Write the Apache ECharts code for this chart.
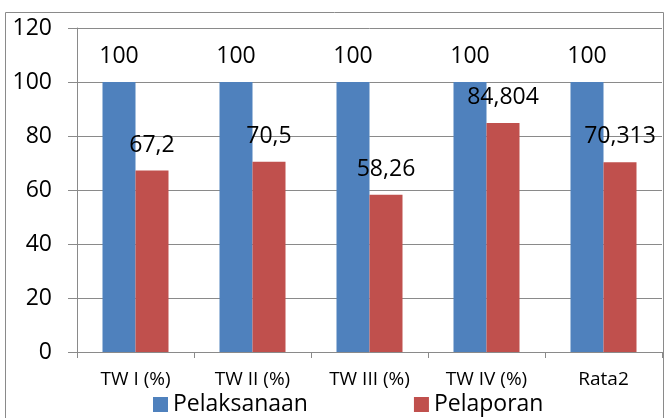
<!DOCTYPE html>
<html>
<head>
<meta charset="utf-8">
<script src="https://cdn.jsdelivr.net/npm/echarts@6/dist/echarts.min.js"></script>
<style>
html,body{margin:0;padding:0;background:#fff;}
#c{width:667px;height:418px;}
</style>
</head>
<body>
<div id="c"></div>
<script>
var categories = ['TW I (%)', 'TW II (%)', 'TW III (%)', 'TW IV (%)', 'Rata2'];
var pelaksanaan = [100, 100, 100, 100, 100];
var pelaporan = [67.2, 70.5, 58.26, 84.804, 70.313];
var yTicks = [0, 20, 40, 60, 80, 100, 120];

var chart = echarts.init(document.getElementById('c'), null, {renderer: 'canvas'});
var fmt = function (p) { return String(p.value).replace('.', ','); };
var labelStyle = {
  show: true, position: 'top', distance: 14,
  fontFamily: 'Open Sans', fontSize: 23, color: '#000', formatter: fmt
};
chart.setOption({
  animation: false,
  graphic: [{
    type: 'rect', shape: {x: 5.5, y: 12.5, width: 658, height: 420},
    style: {fill: 'none', stroke: '#8a8a8a', lineWidth: 1}, z: -1
  }],
  grid: {left: 77, right: 5, top: 28, bottom: 66, containLabel: false},
  legend: {
    left: 148, top: 388, itemWidth: 15, itemHeight: 15, itemGap: 106,
    icon: 'rect',
    textStyle: {fontFamily: 'Open Sans', fontSize: 23, color: '#000'},
    data: ['Pelaksanaan', 'Pelaporan']
  },
  xAxis: {
    type: 'category', data: categories,
    axisLine: {lineStyle: {color: '#8a8a8a', width: 1}},
    axisTick: {show: true, length: 6, lineStyle: {color: '#8a8a8a'}},
    axisLabel: {fontFamily: 'Open Sans', fontSize: 19, color: '#000', margin: 18}
  },
  yAxis: {
    type: 'value', min: yTicks[0], max: yTicks[yTicks.length - 1], interval: 20,
    axisLine: {show: true, lineStyle: {color: '#8a8a8a', width: 1}},
    axisTick: {show: true, length: 9, lineStyle: {color: '#8a8a8a'}},
    splitLine: {show: true, lineStyle: {color: '#8a8a8a', width: 1}},
    axisLabel: {fontFamily: 'Open Sans', fontSize: 23, color: '#000', margin: 25}
  },
  series: [
    {name: 'Pelaksanaan', type: 'bar', data: pelaksanaan, barWidth: 33, barGap: '0%',
     itemStyle: {color: '#4F81BD'}, label: labelStyle},
    {name: 'Pelaporan', type: 'bar', data: pelaporan, barWidth: 33,
     itemStyle: {color: '#C0504D'}, label: labelStyle}
  ]
});
</script>
</body>
</html>
